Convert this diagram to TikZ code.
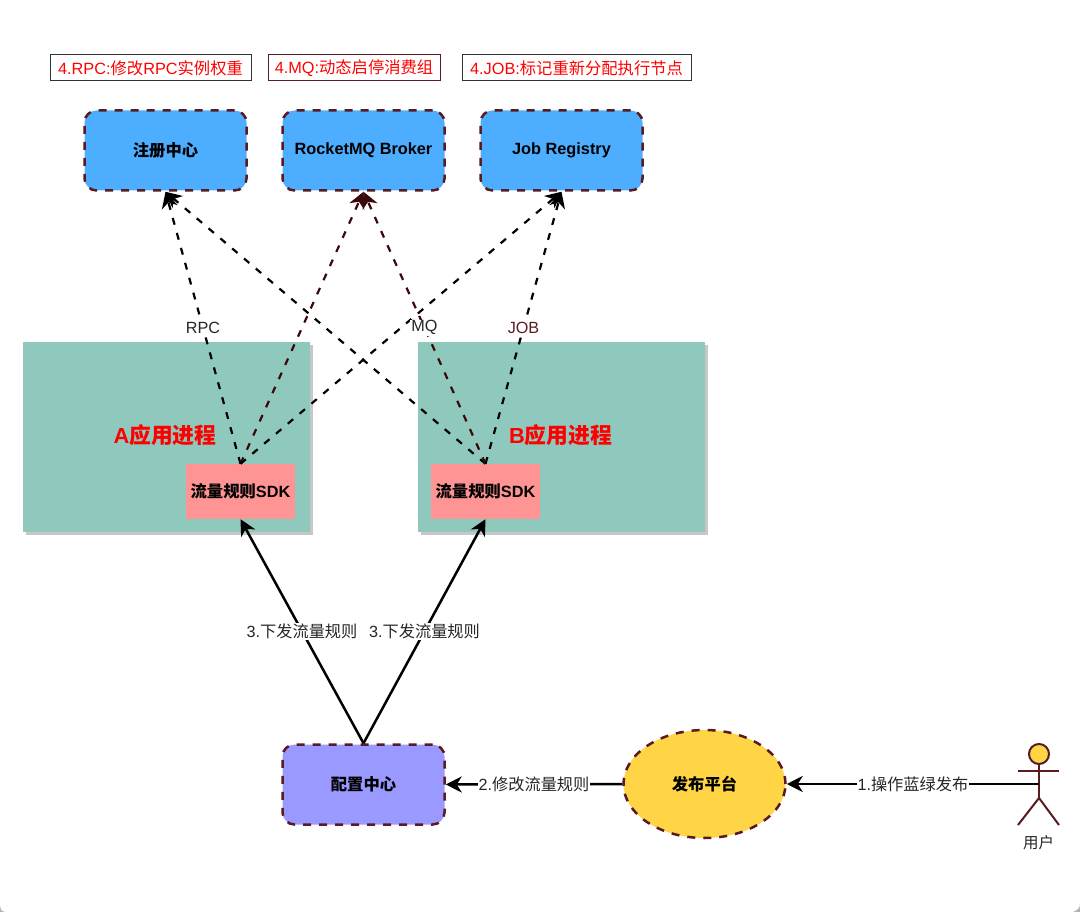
\documentclass[tikz,border=0pt]{standalone}
\usepackage{fontspec}
\setmainfont{Liberation Sans}
\newfontfamily\cjk{Noto Sans CJK SC}
\newcommand{\zh}[1]{{\cjk #1}}
\usetikzlibrary{arrows.meta,shapes.geometric,shadows}
\definecolor{dashdark}{HTML}{5A1A22}
\definecolor{bluefill}{HTML}{4DADFF}
\definecolor{greenfill}{HTML}{8FC9BD}
\definecolor{pinkfill}{HTML}{FF9494}
\definecolor{purplefill}{HTML}{9999FF}
\definecolor{yellowfill}{HTML}{FFD445}
\definecolor{edgedark}{HTML}{3A0808}
\tikzset{
  x=1pt,y=-1pt,
  tip/.style={-{Stealth[length=16pt,width=16pt,inset=5pt]}},
  dashedge/.style={tip,line width=2.2pt,dash pattern=on 7pt off 8.5pt,black},
  dashedgedark/.style={dashedge,edgedark},
  solidedge/.style={tip,line width=2.5pt,black},
  edgelabel/.style={fill=white,inner sep=1pt,font=\fontsize{16.2}{18}\selectfont,text=black!85},
  svc/.style={rounded corners=12pt,draw=dashdark,line width=2.5pt,dash pattern=on 8pt off 8pt,minimum width=162pt,minimum height=80pt,inner sep=0pt,font=\fontsize{16.3}{18}\selectfont\bfseries,text=black},
  notebox/.style={draw=black!80,line width=1pt,fill=white,text=red,inner sep=0pt,minimum height=26pt,font=\fontsize{16.3}{18}\selectfont},
  proc/.style={fill=greenfill,minimum width=287pt,minimum height=190pt,inner sep=0pt,drop shadow={shadow xshift=3pt,shadow yshift=-3pt,fill=black!22,opacity=1}},
  sdk/.style={fill=pinkfill,minimum width=109pt,minimum height=55pt,inner sep=0pt,font=\fontsize{16.3}{18}\selectfont\bfseries,text=black},
  proclabel/.style={text=red,inner sep=0pt,font=\fontsize{21.8}{24}\selectfont\bfseries},
  actorline/.style={draw=dashdark,line width=2pt}
}
\begin{document}
\begin{tikzpicture}
\useasboundingbox (0,0) rectangle (1080,912);
\fill[white] (0,0) rectangle (1080,912);
% page corners
\fill[black!30] (1080,912) -- (1080,904) .. controls (1080,908) and (1078,910) .. (1073,912) -- cycle;
\fill[black!30] (0,912) -- (0,906) .. controls (0,909) and (1,911) .. (5,912) -- cycle;

% notes
\node[notebox,minimum width=201pt] (noteRpc) at (150.5,68) {4.RPC:\zh{修改}RPC\zh{实例权重}};
\node[notebox,minimum width=172pt,draw=dashdark] (noteMq) at (354,68) {4.MQ:\zh{动态启停消费组}};
\node[notebox,minimum width=229pt] (noteJob) at (576.5,68) {4.JOB:\zh{标记重新分配执行节点}};

% services
\node[svc,fill=bluefill] (reg) at (165.5,150.5) {\zh{注册中心}};
\node[svc,fill=bluefill] (mq) at (363.5,150.5) {\raisebox{-0.5pt}{RocketMQ Broker}};
\node[svc,fill=bluefill] (job) at (561.5,150.5) {\raisebox{-0.5pt}{Job Registry}};

% processes
\node[proc] (procA) at (166.5,437) {};
\node[proc] (procB) at (561.5,437) {};
\node[proclabel] (labA) at (165,435) {A\zh{应用进程}};
\node[proclabel] (labB) at (560.5,435) {B\zh{应用进程}};
\node[sdk] (sdkA) at (240.5,491.5) {\zh{流量规则}SDK};
\node[sdk] (sdkB) at (485.5,491.5) {\zh{流量规则}SDK};

% config, platform, user
\node[svc,fill=purplefill] (cfg) at (363.5,784.5) {\zh{配置中心}};
\node[ellipse,draw=dashdark,line width=2.5pt,dash pattern=on 8pt off 8pt,fill=yellowfill,minimum width=162pt,minimum height=108pt,inner sep=0pt,font=\fontsize{16.3}{18}\selectfont\bfseries] (pub) at (704.5,784) {\zh{发布平台}};

% actor
\node[circle,actorline,fill=yellowfill,minimum size=20pt,inner sep=0pt] (head) at (1039,754) {};
\coordinate (hip) at (1039,798);
\coordinate (armL) at (1018,771);
\coordinate (armR) at (1059,771);
\coordinate (legL) at (1018,825);
\coordinate (legR) at (1059,825);
\coordinate (userPort) at (1039,784);
\draw[actorline] (head.south) -- (hip);
\draw[actorline] (armL) -- (armR);
\draw[actorline] (legL) -- (hip) -- (legR);
\node[inner sep=0pt,font=\fontsize{15.5}{17}\selectfont,text=black!85] (userLabel) at (1038.5,843) {\zh{用户}};

% dashed edges
\draw[dashedge] (sdkA.north) -- (reg.south) node[edgelabel,pos=0.5] (lblRpc) {RPC};
\draw[dashedgedark] (sdkA.north) -- (mq.south);
\draw[dashedge] (sdkA.north) -- (job.south);
\draw[dashedge] (sdkB.north) -- (reg.south);
\draw[dashedgedark] (sdkB.north) -- (mq.south) node[edgelabel,pos=0.5] (lblMq) {MQ};
\draw[dashedge] (sdkB.north) -- (job.south) node[edgelabel,pos=0.5,text=dashdark] (lblJob) {JOB};

% solid edges
\draw[solidedge] (cfg.north) -- (sdkA.south) node[edgelabel,pos=0.5] (lblA) {3.\zh{下发流量规则}};
\draw[solidedge] (cfg.north) -- (sdkB.south) node[edgelabel,pos=0.5] (lblB) {3.\zh{下发流量规则}};
\draw[solidedge] (pub.west) -- (cfg.east) node[edgelabel,pos=0.5] (lblCfg) {2.\zh{修改流量规则}};
\draw[solidedge] (userPort) -- (pub.east) node[edgelabel,pos=0.5] (lblPub) {1.\zh{操作蓝绿发布}};
\end{tikzpicture}
\end{document}
